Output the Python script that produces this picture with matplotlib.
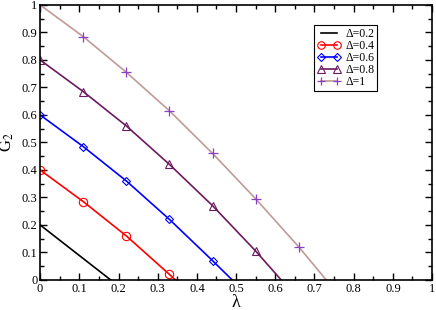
import numpy as np
import matplotlib.pyplot as plt
from matplotlib.ticker import MultipleLocator

plt.rcParams['font.family'] = ['Liberation Serif', 'DejaVu Serif']
plt.rcParams['mathtext.fontset'] = 'stix'

# G2 vs lambda (last point = where curve hits zero)
lam_02 = [0.0, 0.18]
g_02 = [0.2, 0.0]

lam_04 = [0.0, 0.11, 0.22, 0.33, 0.345]
g_04 = [0.4, 0.285, 0.16, 0.02, 0.0]

lam_06 = [0.0, 0.11, 0.22, 0.33, 0.44, 0.49]
g_06 = [0.6, 0.485, 0.36, 0.22, 0.07, 0.0]

lam_08 = [0.0, 0.11, 0.22, 0.33, 0.44, 0.55, 0.615]
g_08 = [0.8, 0.685, 0.56, 0.42, 0.27, 0.105, 0.0]

lam_10 = [0.0, 0.11, 0.22, 0.33, 0.44, 0.55, 0.66, 0.73]
g_10 = [1.0, 0.885, 0.755, 0.615, 0.46, 0.295, 0.12, 0.0]

fig = plt.figure(figsize=(4.36, 3.10), dpi=100)
ax = fig.add_axes([0.092, 0.097, 0.899, 0.887])

ax.plot(lam_02, g_02, color='black', lw=1.2, label=r'Δ=0.2')
ax.plot(lam_04, g_04, color='red', lw=1.2, marker='o', ms=6, mfc='none',
        mew=0.8, markevery=list(range(len(lam_04) - 1)), label=r'Δ=0.4')
ax.plot(lam_06, g_06, color='blue', lw=1.2, marker='D', ms=4.5, mfc='none',
        mew=0.8, markevery=list(range(len(lam_06) - 1)), label=r'Δ=0.6')
ax.plot(lam_08, g_08, color='#6b1a5e', lw=1.2, marker='^', ms=6, mfc='none',
        mew=0.8, markevery=list(range(len(lam_08) - 1)), label=r'Δ=0.8')
ax.plot(lam_10, g_10, color='#c09a98', lw=1.2, marker='+', ms=7, mec='#8a3fc8',
        mew=0.9, markevery=list(range(len(lam_10) - 1)), label=r'Δ=1')

ax.set_xlim(0, 1)
ax.set_ylim(0, 1)
ax.xaxis.set_major_locator(MultipleLocator(0.1))
ax.xaxis.set_minor_locator(MultipleLocator(0.05))
ax.yaxis.set_major_locator(MultipleLocator(0.1))
ax.yaxis.set_minor_locator(MultipleLocator(0.05))
ax.xaxis.set_major_formatter(plt.FuncFormatter(lambda v, p: f'{v:g}'))
ax.yaxis.set_major_formatter(plt.FuncFormatter(lambda v, p: f'{v:g}'))
ax.tick_params(which='both', direction='in', top=True, right=True, labelsize=9, width=1)
ax.tick_params(which='major', length=5, pad=2)
ax.tick_params(which='minor', length=3)
for s in ax.spines.values():
    s.set_linewidth(1.2)

ax.set_xlabel('λ', fontsize=13)
ax.xaxis.set_label_coords(0.5, -0.052)
ax.set_ylabel(r'G$_2$', fontsize=12)
ax.yaxis.set_label_coords(-0.061, 0.5)

leg = ax.legend(loc='upper left', bbox_to_anchor=(0.699, 0.927), fontsize=8.5,
                numpoints=2, frameon=True, fancybox=False, edgecolor='black',
                framealpha=1, handlelength=2.0, handletextpad=0.4,
                labelspacing=0.0, borderpad=0.25, borderaxespad=0,
                markerscale=0.9)
leg.get_frame().set_linewidth(0.8)

fig.savefig('out.png', dpi=100)
